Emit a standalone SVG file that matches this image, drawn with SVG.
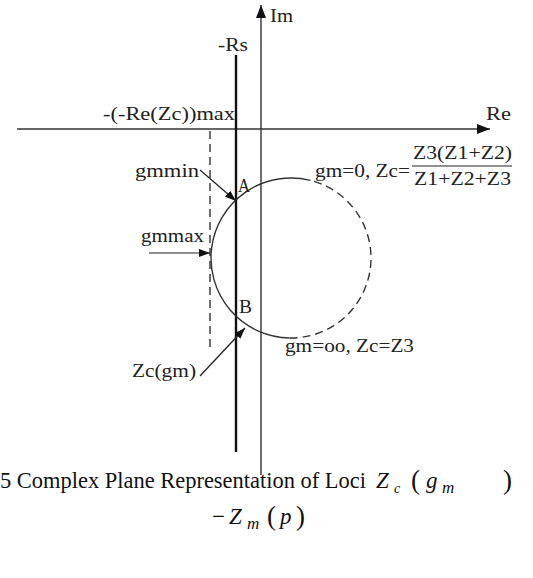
<svg xmlns="http://www.w3.org/2000/svg" width="533" height="578" viewBox="0 0 533 578">
<style>
.t{font-family:"Liberation Serif","Times New Roman",serif;font-size:19px;fill:#222}
.cap{font-family:"Liberation Serif","Times New Roman",serif;font-size:23px;fill:#111}
.it{font-style:italic}
.sub{font-style:italic;font-size:14px}
.subm{font-style:italic;font-size:17px}
.par{font-size:27px}
.ax{stroke:#333;stroke-width:1.4;fill:none}
.ar{stroke:#222;stroke-width:1.2;fill:none}
.dash{stroke:#333;stroke-width:1.4;fill:none;stroke-dasharray:8 5}
</style>
<defs>
<marker id="big" markerUnits="userSpaceOnUse" markerWidth="14" markerHeight="10" refX="13" refY="5" orient="auto">
<path d="M0,0 L13,5 L0,10 Z" fill="#111"/>
</marker>
<marker id="sm" markerUnits="userSpaceOnUse" markerWidth="12" markerHeight="8" refX="11" refY="4" orient="auto">
<path d="M0,0 L11,4 L0,8 Z" fill="#111"/>
</marker>
</defs>
<rect width="533" height="578" fill="#fff"/>
<g id="connectors">
<line class="ax" x1="261" y1="475" x2="261" y2="5" marker-end="url(#big)"/>
<line class="ax" x1="17" y1="129" x2="490" y2="129" marker-end="url(#big)"/>
<line x1="236" y1="55" x2="236" y2="452" stroke="#111" stroke-width="2.4"/>
<line class="dash" x1="210" y1="131" x2="210" y2="352"/>
<path class="ax" d="M310.4,180.4 A80,80 0 1 0 289.6,338"/>
<path class="dash" d="M289.6,338 A80,80 0 0 0 310.4,180.4"/>
<line class="ar" x1="200" y1="170" x2="236" y2="201" marker-end="url(#sm)"/>
<line class="ar" x1="149" y1="253" x2="210" y2="253" marker-end="url(#sm)"/>
<line class="ar" x1="200" y1="376" x2="245" y2="328" marker-end="url(#sm)"/>
</g>
<g id="labels">
<text class="t" x="270" y="22" textLength="23" lengthAdjust="spacingAndGlyphs">Im</text>
<text class="t" x="218" y="51" textLength="30" lengthAdjust="spacingAndGlyphs">-Rs</text>
<text class="t" x="103" y="120" textLength="132" lengthAdjust="spacingAndGlyphs">-(-Re(Zc))max</text>
<text class="t" x="486" y="120" textLength="25" lengthAdjust="spacingAndGlyphs">Re</text>
<text class="t" x="135" y="177" textLength="64" lengthAdjust="spacingAndGlyphs">gmmin</text>
<text class="t" x="238" y="192" textLength="12" lengthAdjust="spacingAndGlyphs">A</text>
<text class="t" x="315" y="177" textLength="95" lengthAdjust="spacingAndGlyphs">gm=0, Zc=</text>
<text class="t" x="413" y="159" textLength="99" lengthAdjust="spacingAndGlyphs">Z3(Z1+Z2)</text>
<line x1="412" y1="166" x2="512" y2="166" stroke="#222" stroke-width="1"/>
<text class="t" x="414" y="185" textLength="97" lengthAdjust="spacingAndGlyphs">Z1+Z2+Z3</text>
<text class="t" x="141" y="242" textLength="63" lengthAdjust="spacingAndGlyphs">gmmax</text>
<text class="t" x="239" y="313" textLength="13" lengthAdjust="spacingAndGlyphs">B</text>
<text class="t" x="285" y="352" textLength="129" lengthAdjust="spacingAndGlyphs">gm=oo, Zc=Z3</text>
<text class="t" x="132" y="377" textLength="64" lengthAdjust="spacingAndGlyphs">Zc(gm)</text>
</g>
<g id="caption">
<text class="cap" x="0" y="488" textLength="366" lengthAdjust="spacingAndGlyphs">5 Complex Plane Representation of Loci</text>
<text class="cap it" x="376" y="488">Z</text>
<text class="cap sub" x="394" y="493">c</text>
<text class="cap par" x="411" y="489">(</text>
<text class="cap it" x="426" y="488">g</text>
<text class="cap subm" x="442" y="493">m</text>
<text class="cap par" x="503" y="489">)</text>
<text class="cap" x="212" y="524">−</text>
<text class="cap it" x="229" y="524">Z</text>
<text class="cap subm" x="247" y="529">m</text>
<text class="cap par" x="267" y="525">(</text>
<text class="cap it" x="280" y="524">p</text>
<text class="cap par" x="296" y="525">)</text>
</g>
</svg>
